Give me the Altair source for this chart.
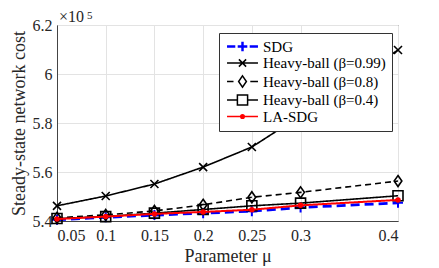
import altair as alt
import pandas as pd

mu = [0.05, 0.1, 0.15, 0.2, 0.25, 0.3, 0.4]
sdg = [5.405, 5.415, 5.424, 5.432, 5.440, 5.455, 5.474]
hb099 = [5.462, 5.502, 5.551, 5.620, 5.702, 5.830, 6.098]
hb08 = [5.413, 5.425, 5.441, 5.466, 5.497, 5.517, 5.563]
hb04 = [5.410, 5.418, 5.432, 5.447, 5.462, 5.473, 5.503]
lasdg = [5.408, 5.418, 5.429, 5.437, 5.446, 5.464, 5.486]

series_names = ["SDG", "Heavy-ball (β=0.99)", "Heavy-ball (β=0.8)",
                "Heavy-ball (β=0.4)", "LA-SDG"]
series_values = [sdg, hb099, hb08, hb04, lasdg]
x_ticks = [0.05, 0.1, 0.15, 0.2, 0.25, 0.3, 0.4]
y_ticks = [5.4, 5.6, 5.8, 6.0, 6.2]

rows = []
for name, vals in zip(series_names, series_values):
    for m, v in zip(mu, vals):
        rows.append({"mu": m, "cost": v, "series": name})
df = pd.DataFrame(rows)

FONT = "Liberation Serif"
TXT = "#262626"

colors = ["#0000ff", "#000000", "#000000", "#000000", "#ff0000"]
dashes = [[9, 5], [1, 0], [6, 4], [1, 0], [1, 0]]
widths = [2.8, 1.6, 1.6, 1.6, 2.0]
shapes = ["M-1,0H1M0,-1V1", "M-1,-1L1,1M-1,1L1,-1", "M0,-1L0.7,0L0,1L-0.7,0Z",
          "square", "circle"]
msizes = [100, 64, 121, 100, 30]
mfilled = [False, False, False, False, True]
mstroke = [2.0, 1.6, 1.6, 1.6, 1.0]

# legend symbols: 6 px per unit (symbolSize 144 -> 12 px box)
legend_paths = [
    "M-2.58,-0.08H-1.2M-2.58,0.08H-1.2M1.2,-0.08H2.58M1.2,0.08H2.58"
    "M-0.8,-0.08H0.8M-0.8,0.08H0.8M-0.08,-0.8V0.8M0.08,-0.8V0.8",
    "M-2.58,0H2.58M-0.6,-0.6L0.6,0.6M-0.6,0.6L0.6,-0.6",
    "M-2.58,0H-1.5M1.3,0H2.58M0,-0.95L0.65,0L0,0.95L-0.65,0Z",
    "M-2.58,0H-0.85M0.85,0H2.58M-0.85,-0.85H0.85V0.85H-0.85Z",
    "M-2.58,0H2.58M0.3,0A0.3,0.3 0 1,1 -0.3,0A0.3,0.3 0 1,1 0.3,0"
    "M0.15,0A0.15,0.15 0 1,1 -0.15,0A0.15,0.15 0 1,1 0.15,0",
]

x_enc = alt.X("mu:Q", scale=alt.Scale(domain=[0.05, 0.4], nice=False, zero=False),
              axis=alt.Axis(values=x_ticks, format=".2~f", title="Parameter μ",
                            labelFont=FONT, titleFont=FONT))
y_enc = alt.Y("cost:Q", scale=alt.Scale(domain=[5.4, 6.2], nice=False, zero=False),
              axis=alt.Axis(values=y_ticks, format=".1~f",
                            title="Steady-state network cost",
                            labelFont=FONT, titleFont=FONT))

base = alt.Chart(df)
layers = []
for i, name in enumerate(series_names):
    sub = base.transform_filter(alt.datum.series == name)
    layers.append(sub.mark_line(color=colors[i], strokeDash=dashes[i],
                                strokeWidth=widths[i], clip=True)
                  .encode(x=x_enc, y=y_enc))
    if mfilled[i]:
        pt = sub.mark_point(shape=shapes[i], size=msizes[i], filled=True,
                            color=colors[i], opacity=1)
    else:
        pt = sub.mark_point(shape=shapes[i], size=msizes[i], filled=False,
                            color=colors[i], strokeWidth=mstroke[i], opacity=1)
    layers.append(pt.encode(x=x_enc, y=y_enc))

leg = alt.Legend(title=None, orient="none", legendX=162, legendY=8,
                 labelFont=FONT, labelFontSize=15)
legend_layer = base.transform_filter("false").mark_point(
    filled=False, opacity=1, strokeWidth=1.5).encode(
    x=x_enc, y=y_enc,
    color=alt.Color("series:N", scale=alt.Scale(domain=series_names, range=colors),
                    legend=leg),
    shape=alt.Shape("series:N", scale=alt.Scale(domain=series_names, range=legend_paths),
                    legend=leg),
)
layers.append(legend_layer)

exp_df = pd.DataFrame({"t": ["×10"]})
layers.append(alt.Chart(exp_df).mark_text(
    font=FONT, fontSize=16, color=TXT, align="left", baseline="alphabetic").encode(
    x=alt.value(2), y=alt.value(-3), text="t:N"))
sup_df = pd.DataFrame({"t": ["5"]})
layers.append(alt.Chart(sup_df).mark_text(
    font=FONT, fontSize=11, color=TXT, align="left", baseline="alphabetic").encode(
    x=alt.value(30), y=alt.value(-6), text="t:N"))

chart = alt.layer(*layers).properties(
    width=341, height=196,
    autosize=alt.AutoSizeParams(type="none"),
    padding={"left": 49, "top": 17, "right": 33, "bottom": 46},
).configure_view(stroke="#444444", strokeWidth=1).configure_axis(
    labelFont=FONT, labelFontSize=16, labelColor=TXT,
    titleFont=FONT, titleFontSize=18, titleFontWeight="normal", titleColor=TXT,
    grid=True, gridColor="#e3e3e3", gridWidth=1,
    domainColor="#444444", ticks=False,
).configure_axisX(labelPadding=6, titlePadding=4).configure_axisY(
    labelPadding=5, titlePadding=4
).configure_legend(
    labelFont=FONT, labelFontSize=15, labelColor="#000000",
    fillColor="white", strokeColor="#333333", padding=6,
    symbolSize=144, symbolStrokeWidth=1.5, rowPadding=0.5,
    symbolOffset=10, labelOffset=13,
)

chart.save("out.html", embed_options={"renderer": "svg", "actions": False})
